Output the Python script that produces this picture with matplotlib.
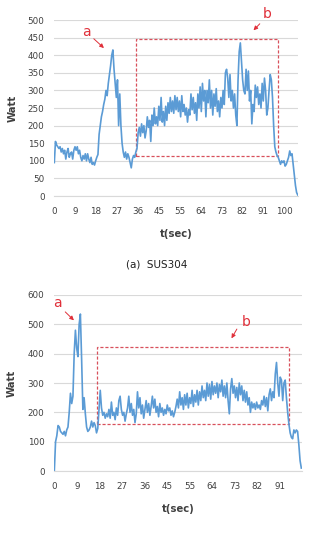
import numpy as np
import matplotlib.pyplot as plt
from matplotlib.patches import Rectangle

# sampled every 0.5 s
dt = 0.5

# (a) SUS304 power trace, Watt
sus304 = [
    95, 155, 145, 140, 135, 140, 125, 135, 120, 130,
    105, 125, 135, 110, 120, 125, 105, 130, 140, 130,
    140, 120, 130, 110, 100, 115, 105, 120, 100, 120,
    105, 95, 110, 90, 95, 88, 100, 110, 118, 175,
    200, 225, 240, 260, 275, 300, 285, 320, 345, 370,
    400, 415, 360, 320, 280, 330, 200, 290, 200, 150,
    125, 110, 125, 105, 120, 110, 95, 80, 105, 115,
    110, 125, 135, 180, 195, 170, 205, 180, 200, 165,
    185, 225, 195, 215, 155, 230, 200, 250, 205, 225,
    200, 255, 215, 280, 210, 240, 200, 255, 215, 265,
    235, 280, 240, 270, 235, 285, 245, 280, 240, 270,
    225, 285, 240, 260, 230, 250, 210, 245, 230, 290,
    245, 280, 235, 265, 215, 290, 250, 310, 240, 320,
    270, 300, 225, 300, 265, 330, 250, 300, 230, 290,
    255, 305, 240, 270, 225, 280, 250, 300, 260, 350,
    360, 335, 280, 345, 270, 300, 250, 290, 230, 200,
    330, 410, 435, 380, 330, 300, 290, 360, 300, 355,
    270, 300, 205, 260, 240, 315, 280, 310, 260, 290,
    250, 320, 270, 335, 300, 230, 250, 300, 345, 330,
    280, 200, 140, 125, 115, 110, 100, 90, 100, 95,
    100, 85, 90, 100, 110, 128, 115, 120, 90, 60,
    30, 10, 3,
]

# (b) second material, Watt
second = [
    0, 100, 120, 155, 150, 135, 130, 125, 135, 120,
    140, 150, 200, 265, 230, 255, 400, 480, 420, 390,
    500, 535, 380, 210, 250, 195, 150, 135, 140, 150,
    170, 150, 165, 155, 130, 145, 210, 275, 215, 190,
    200, 180, 195, 185, 210, 180, 235, 190, 200, 175,
    215, 190, 240, 255, 210, 190, 200, 170, 195, 215,
    255, 200, 230, 190, 210, 165, 195, 270, 215, 250,
    195, 225, 180, 210, 240, 200, 230, 190, 220, 255,
    215, 245, 200, 220, 185, 230, 200, 215, 190, 210,
    195, 225, 205, 215, 190, 205, 185, 200, 220, 245,
    215, 270, 225, 250, 210, 260, 225, 265, 215, 250,
    230, 275, 220, 260, 235, 275, 225, 270, 240, 290,
    250, 275, 240, 300, 255, 295, 245, 305, 260, 290,
    265, 300, 250, 295, 270, 310, 255, 290, 250, 300,
    240, 195, 280, 315, 265, 290, 250, 285, 240, 300,
    260, 290, 240, 275, 235, 270, 225, 250, 200, 235,
    215, 230, 210, 235, 215, 225, 210, 240, 225, 255,
    220, 250, 205, 260, 280, 240, 270, 250, 330, 370,
    300, 255, 320, 310, 240, 300, 310, 250, 200, 160,
    130, 115, 110, 140, 130, 140, 135, 90, 35, 10,
]

tick_labels_a = ['0', '9', '18', '27', '36', '45', '55', '64', '73', '82', '91', '100']
tick_labels_b = ['0', '9', '18', '27', '36', '45', '55', '64', '73', '82', '91']
tick_step = 100 / 11

blue = '#5b9bd5'
red = '#e0303a'
box_red = '#d8505c'


def draw_panel(ax, values, xmax, ymax, ystep, labels, box, a_txt, b_txt):
    t = np.arange(len(values)) * dt
    ax.plot(t, values, color=blue, lw=1.2)
    ax.set_xlim(0, xmax)
    ax.set_ylim(0, ymax)
    ax.set_yticks(np.arange(0, ymax + 1, ystep))
    ax.set_xticks(np.arange(len(labels)) * tick_step)
    ax.set_xticklabels(labels)
    ax.yaxis.grid(True, color='#d9d9d9', lw=0.8)
    ax.set_axisbelow(True)
    for s in ['top', 'right', 'left']:
        ax.spines[s].set_visible(False)
    ax.spines['bottom'].set_color('#d9d9d9')
    ax.tick_params(length=0, labelsize=6.3, colors='#404040')
    ax.tick_params(axis='x', pad=8)
    ax.tick_params(axis='y', pad=7)
    ax.set_xlabel('t(sec)', fontsize=7.3, fontweight='bold', color='#404040', labelpad=9)
    ax.set_ylabel('Watt', fontsize=7.3, fontweight='bold', color='#404040')
    ax.yaxis.set_label_coords(-0.15, 0.5)

    x0, x1, y0, y1 = box
    ax.add_patch(Rectangle((x0, y0), x1 - x0, y1 - y0, fill=False,
                           edgecolor=box_red, lw=0.9, ls=(0, (2.5, 1.5))))
    for txt, (tx, ty), (hx, hy), (lx, ly) in [a_txt, b_txt]:
        ax.annotate('', xy=(hx, hy), xytext=(tx, ty),
                    arrowprops=dict(arrowstyle='-|>', color=red, lw=0.7,
                                    mutation_scale=6),
                    annotation_clip=False)
        ax.text(lx, ly, txt, color=red, fontsize=10, ha='center', va='center',
                clip_on=False)


fig = plt.figure(figsize=(3.14, 5.35), dpi=100)
ax1 = fig.add_axes([0.173, 0.6336, 0.776, 0.329])
ax2 = fig.add_axes([0.173, 0.1196, 0.789, 0.329])

draw_panel(ax1, sus304, 106.1, 500, 50, tick_labels_a,
           (35.4, 97.5, 113.6, 446),
           ('a', (16.3, 452), (22.5, 415), (14.1, 467)),
           ('b', (90.3, 495), (85.9, 465), (92.5, 517)))
draw_panel(ax2, second, 99.8, 600, 100, tick_labels_b,
           (17.3, 94.6, 159, 424),
           ('a', (3.6, 549), (8.7, 507), (1.4, 572)),
           ('b', (74.1, 492), (70.8, 444), (77.2, 507)))

fig.text(0.5, 1 - 265 / 535, '(a)  SUS304', ha='center', va='center',
         fontsize=7.5, color='#202020')

fig.savefig('out.png', dpi=100)
